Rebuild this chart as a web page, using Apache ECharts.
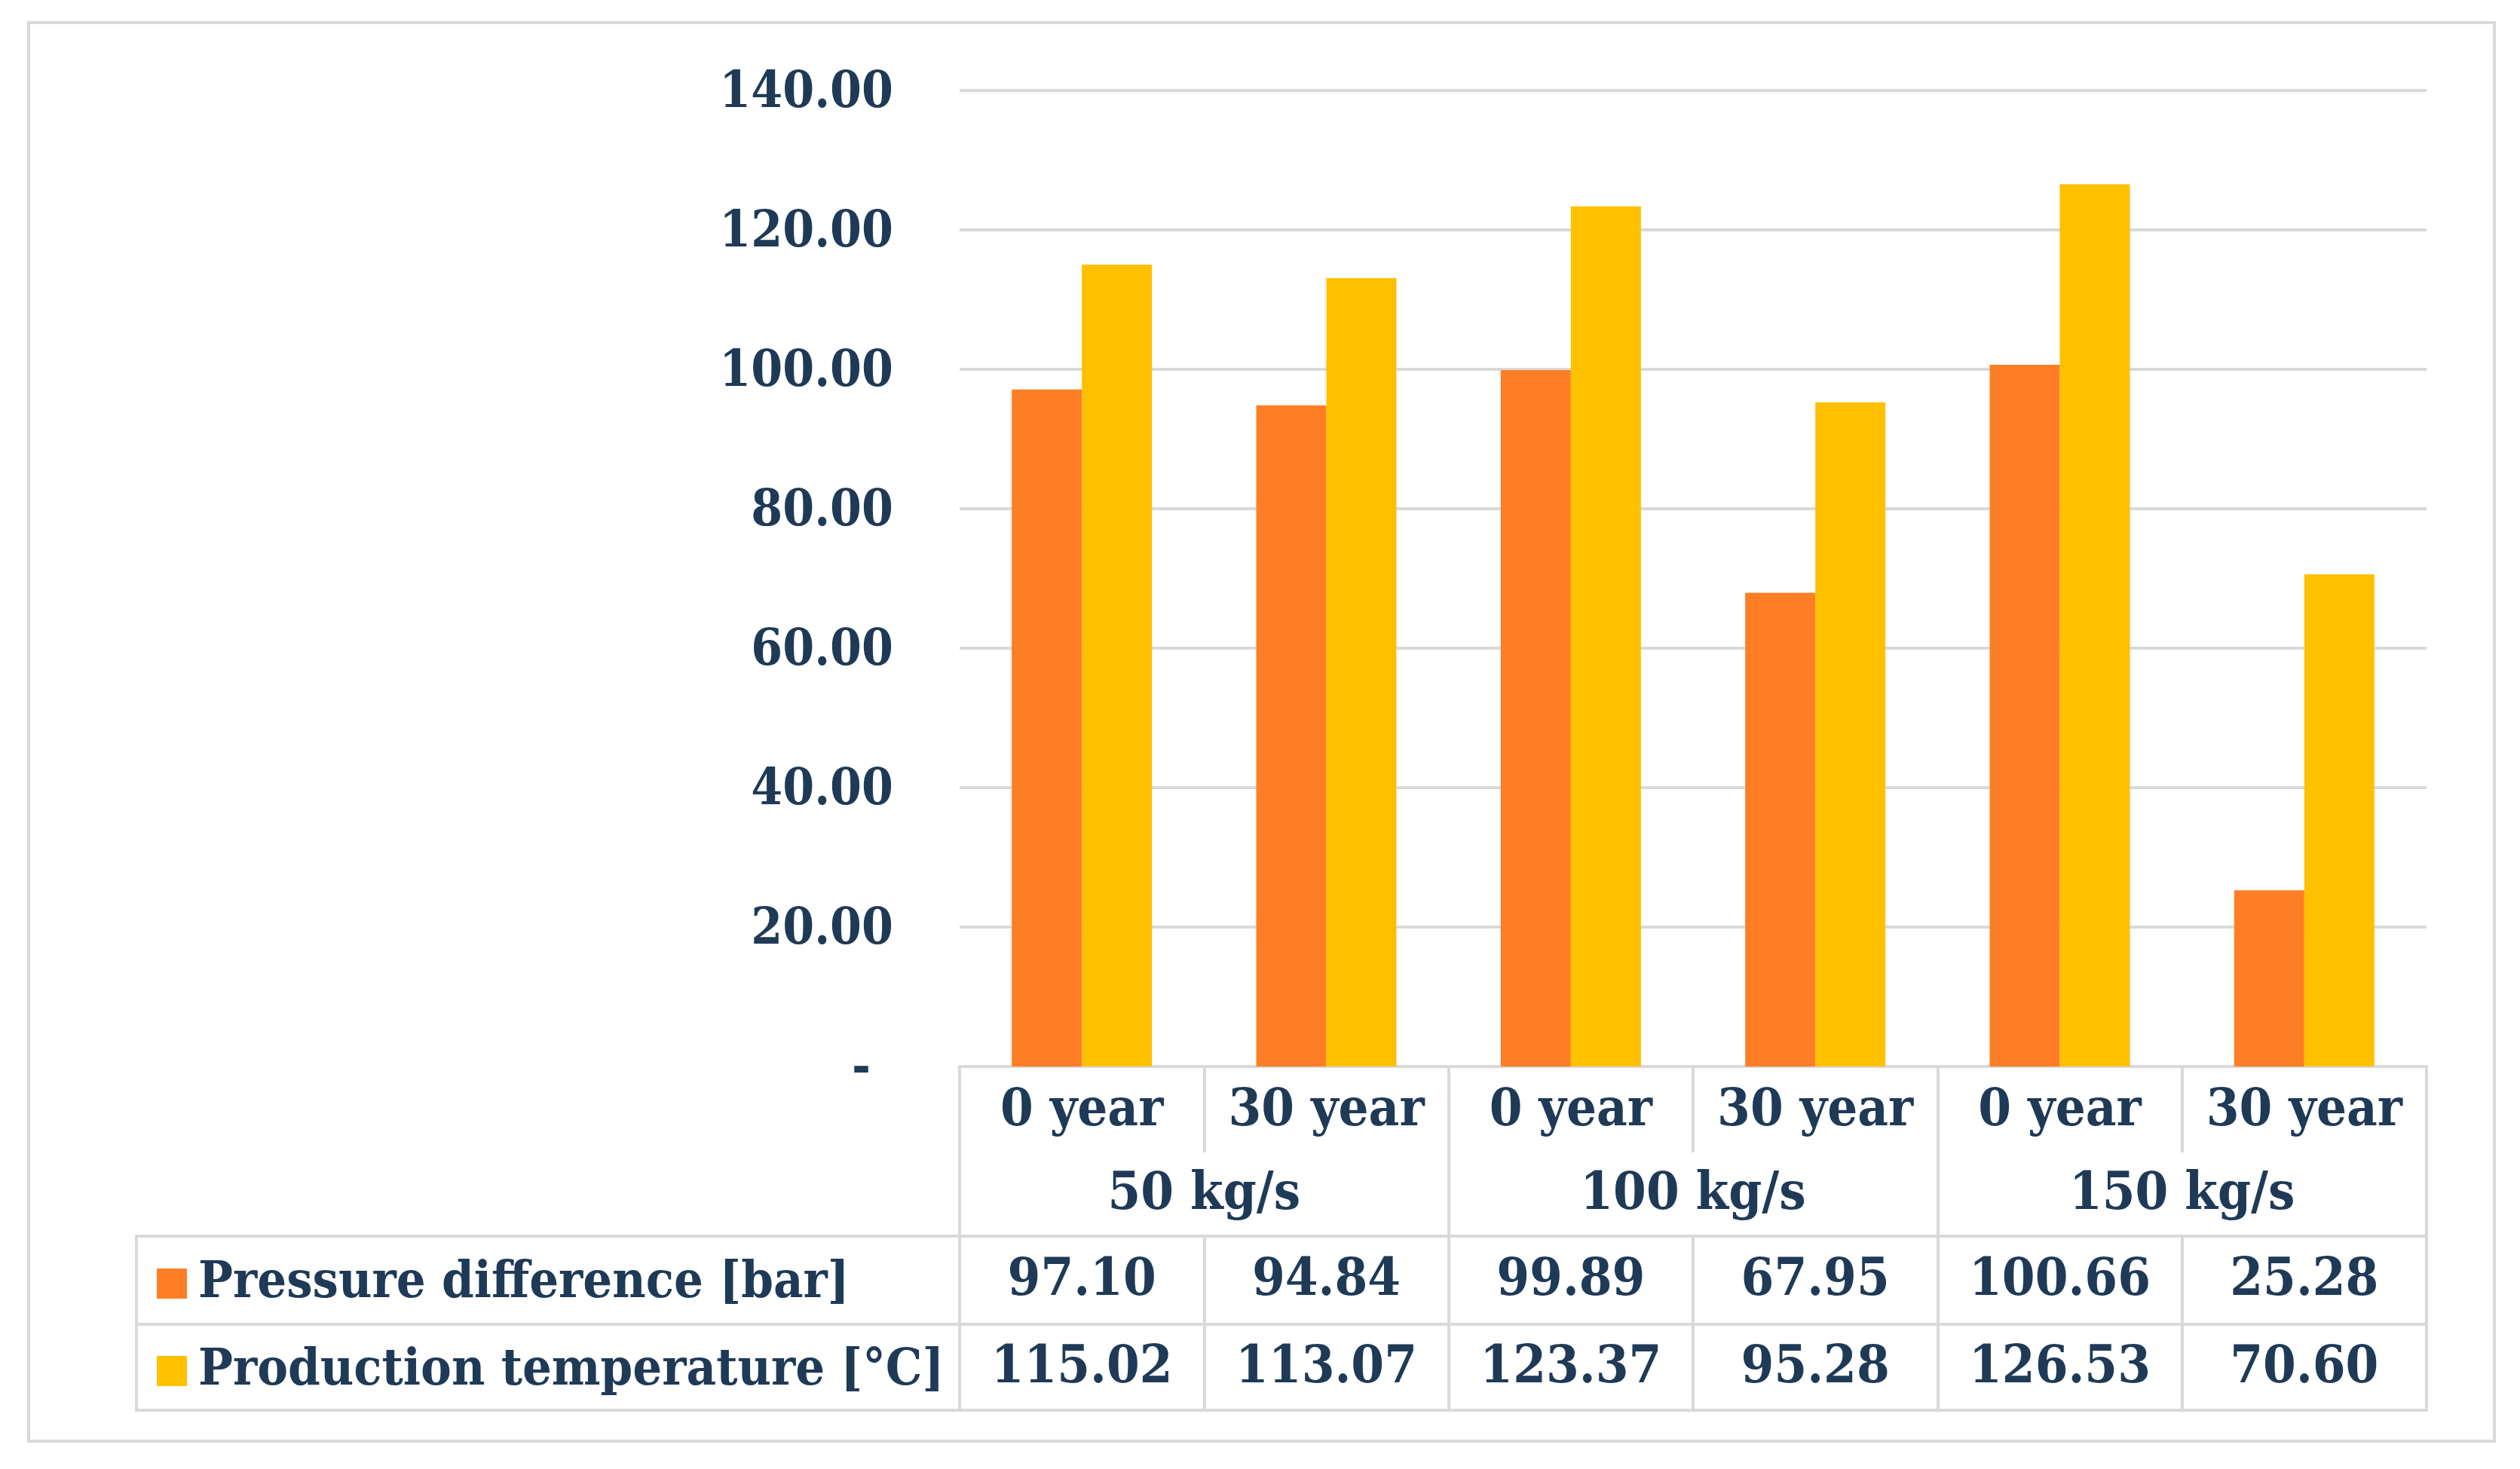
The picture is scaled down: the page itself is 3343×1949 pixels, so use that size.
<!DOCTYPE html>
<html>
<head>
<meta charset="utf-8">
<script src="https://cdn.jsdelivr.net/npm/echarts@6/dist/echarts.min.js"></script>
<style>
html,body{margin:0;padding:0;background:#fff;}
#chart{width:3343px;height:1949px;}
</style>
</head>
<body>
<div id="chart"></div>
<script>
const categories = ['0 year', '30 year', '0 year', '30 year', '0 year', '30 year'];
const groups = ['50 kg/s', '100 kg/s', '150 kg/s'];
const seriesNames = ['Pressure difference [bar]', 'Production temperature [°C]'];
const pressure = [97.10, 94.84, 99.89, 67.95, 100.66, 25.28];
const temperature = [115.02, 113.07, 123.37, 95.28, 126.53, 70.60];
const yMin = 0, yMax = 140, yStep = 20;

const FONT = "'DejaVu Serif Condensed', 'DejaVu Serif', serif";
const TXT = '#1F3A57';
const LINE = '#D9D9D9';
const LW = 4;
const FS = 70;
const FSY = 67;
const FSL = 68;

const chart = echarts.init(document.getElementById('chart'));

const lbl = (margin) => ({
  interval: 0, margin: margin, verticalAlign: 'middle',
  fontFamily: FONT, fontWeight: 'bold', fontSize: FS, color: TXT
});
const tick = (len) => ({show: true, interval: 0, alignWithLabel: false, length: len, lineStyle: {color: LINE, width: LW}});

chart.setOption({
  animation: false,
  backgroundColor: '#fff',
  color: ['#FD7E25', '#FFC000'],
  grid: {left: 1273, right: 124, top: 120, bottom: 534, containLabel: false, outerBoundsMode: 'none'},
  legend: {
    orient: 'vertical', left: 203, top: 1660,
    itemWidth: 40, itemHeight: 40, itemGap: 40, icon: 'rect',
    selectedMode: false,
    textStyle: {fontFamily: FONT, fontWeight: 'bold', fontSize: FSL, color: TXT, lineHeight: 76, padding: [0, 0, 0, 10]},
    data: seriesNames
  },
  yAxis: {
    type: 'value', min: yMin, max: yMax, interval: yStep,
    axisLine: {show: false}, axisTick: {show: false},
    splitLine: {lineStyle: {color: LINE, width: LW}},
    axisLabel: {
      margin: 88, fontFamily: FONT, fontWeight: 'bold', fontSize: FSY, color: TXT,
      padding: [10, 0, 0, 0],
      formatter: v => v === 0 ? '{d|-}' : v.toFixed(2),
      rich: {d: {fontFamily: FONT, fontWeight: 'bold', fontSize: FSY, color: TXT, padding: [0, 30, 0, 0]}}
    }
  },
  xAxis: [
    {type: 'category', data: categories, position: 'bottom', offset: 0,
     axisLine: {show: true, lineStyle: {color: LINE, width: LW}},
     axisTick: tick(114), axisLabel: lbl(60)},
    {type: 'category', data: groups, position: 'bottom', offset: 114,
     axisLine: {show: false},
     axisTick: tick(111), axisLabel: lbl(57)},
    {type: 'category', data: pressure.map(v => v.toFixed(2)), position: 'bottom', offset: 225,
     axisLine: {show: true, lineStyle: {color: LINE, width: LW}},
     axisTick: tick(117), axisLabel: lbl(60)},
    {type: 'category', data: temperature.map(v => v.toFixed(2)), position: 'bottom', offset: 342,
     axisLine: {show: true, lineStyle: {color: LINE, width: LW}},
     axisTick: tick(114), axisLabel: lbl(59)},
    {type: 'category', data: categories, position: 'bottom', offset: 456,
     axisLine: {show: true, lineStyle: {color: LINE, width: LW}},
     axisTick: {show: false}, axisLabel: {show: false}}
  ],
  series: [
    {name: seriesNames[0], type: 'bar', xAxisIndex: 0, data: pressure, barWidth: 93, barGap: '0%'},
    {name: seriesNames[1], type: 'bar', xAxisIndex: 0, data: temperature, barWidth: 93, barGap: '0%'}
  ],
  graphic: [
    {type: 'rect', shape: {x: 38, y: 30, width: 3271, height: 1882}, style: {fill: 'none', stroke: LINE, lineWidth: LW}, silent: true, z: -10},
    {type: 'rect', shape: {x: 181, y: 1640, width: 1092, height: 231}, style: {fill: 'none', stroke: LINE, lineWidth: LW}, silent: true},
    {type: 'line', shape: {x1: 181, y1: 1757, x2: 1273, y2: 1757}, style: {stroke: LINE, lineWidth: LW}, silent: true}
  ]
});
</script>
</body>
</html>
